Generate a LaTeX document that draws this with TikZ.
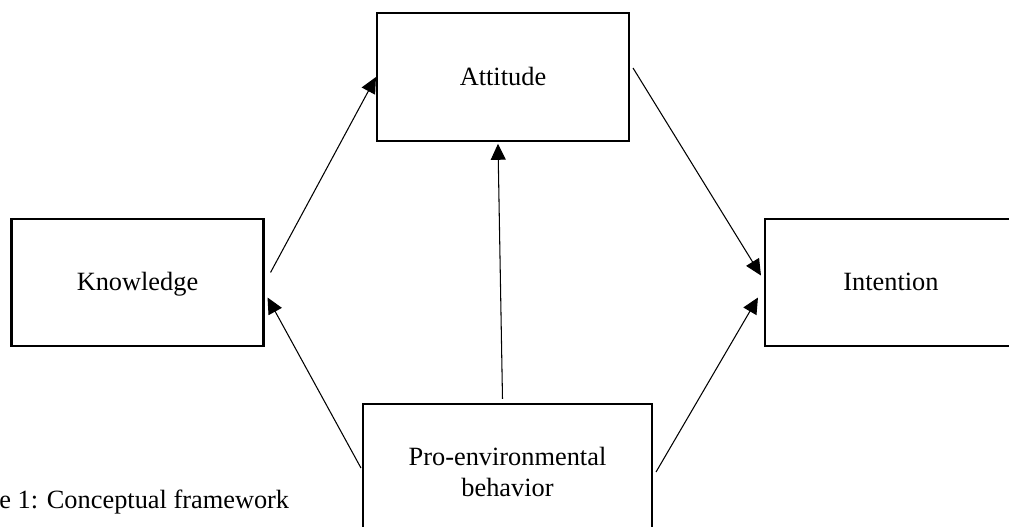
\documentclass[tikz,border=0pt]{standalone}
\usepackage{fontspec}
\setmainfont{Liberation Serif}
\usetikzlibrary{calc,positioning,arrows.meta}

\begin{document}
\begin{tikzpicture}[x=0.02cm, y=-0.02cm, font=\fontsize{15}{17.6}\selectfont,
    box/.style={draw,line width=1.2pt,minimum width=5.04cm,minimum height=2.55cm,inner sep=2pt,text height=11pt,text depth=1.5pt},
    arr/.style={-{Triangle[length=0.32cm,width=0.3cm]},line width=0.6pt}]
            \useasboundingbox (0,0) rectangle (1009,527);
            \clip (0,0) rectangle (1009,527);

            \node[box] (att) at (503,77) {Attitude};
            \node[box] (know) at (137.5,282.5) {Knowledge};
            \node[box] (int) at (891,282.5) {Intention};
            \node[box,minimum width=5.78cm,minimum height=2.72cm,align=center,text height=,text depth=] (pro) at (507.5,472) {Pro-environmental\\behavior};

            \draw[arr] ($(know.east)+(6,-10)$) -- (att.west);
            \draw[arr] ($(att.east)+(3,-9)$) -- ($(int.west)+(-3,-7)$);
            \draw[arr] ($(pro.west)+(-1,-4)$) -- ($(know.east)+(3,15)$);
            \draw[arr] ($(pro.east)+(3,0)$) -- ($(int.west)+(-6,15)$);
            \draw[arr] ($(pro.north)+(-5,-4)$) -- ($(att.south)+(-5,2)$);

            \node[anchor=base west,inner sep=0pt] (cap) at (-1,508) {e 1: Conceptual framework};
          \end{tikzpicture}
\end{document}
